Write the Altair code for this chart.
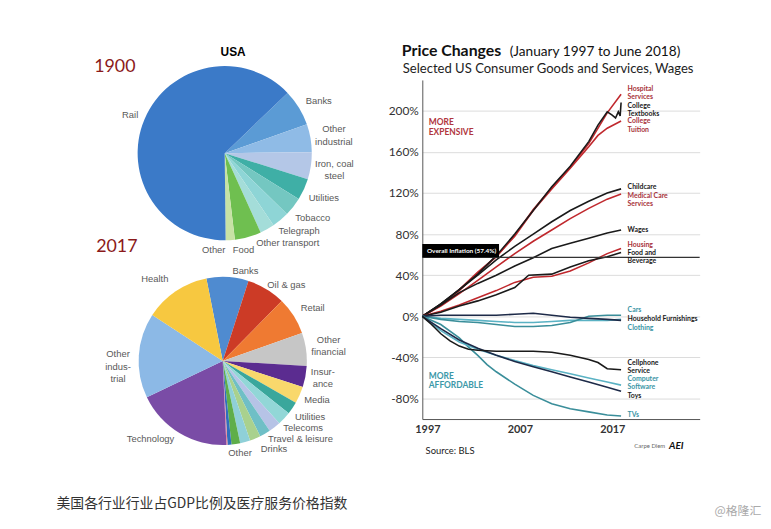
import math
import altair as alt
import pandas as pd

# ---------------- 1900 pie (share of US market, %) ----------------
SECTORS_1900 = ["Banks", "Other\nindustrial", "Iron, coal\nsteel", "Utilities", "Tobacco",
                "Telegraph", "Other transport", "Food", "Other", "Rail"]
SHARE_1900 = [6.8, 5.2, 5.0, 4.0, 3.5, 3.2, 2.7, 4.9, 1.7, 63.0]
COLORS_1900 = ["#5b9bd5", "#8fbbe6", "#b4c7e7", "#3fafa6", "#74c7c1",
               "#8ed5d6", "#a4ddd9", "#6fbf50", "#c7e2a5", "#3b7ac8"]

# ---------------- 2017 pie ----------------
SECTORS_2017 = ["Banks", "Oil & gas", "Retail", "Other\nfinancial", "Insur-\nance", "Media",
                "Utilities", "Telecoms", "Travel & leisure", "Drinks", "", "Other", "", "", "",
                "Technology", "Other\nindus-\ntrial", "Health"]
SHARE_2017 = [8.06, 7.42, 7.22, 6.36, 4.06, 3.25, 2.39, 2.61, 2.31, 2.08, 2.08, 1.94, 1.67,
              0.75, 0.22, 18.58, 16.31, 12.69]
COLORS_2017 = ["#4f8bd0", "#cc3b26", "#ef7a32", "#c6c6c6", "#5b2c90", "#f9d86c",
               "#3aa79c", "#92d7d7", "#b6c3e6", "#6fbfc6", "#a9d18e", "#8fd0d8", "#5fae4a",
               "#2f6fbd", "#e8879a", "#7a4ca6", "#8cb9e6", "#f7c840"]

# ---------------- price changes since Jan 1997 (%) ----------------
YEARS = [1997, 1999, 2001, 2003, 2005, 2007, 2009, 2011, 2013, 2015, 2017, 2018.5]
HOSPITAL = [0, 11, 25, 42, 58, 79, 104, 125, 145, 168, 198, 216]
YEARS_TEXTBOOKS = [1997, 1999, 2001, 2003, 2005, 2007, 2009, 2011, 2013, 2015, 2016, 2017,
                   2017.5, 2017.9, 2018.2, 2018.4, 2018.5]
TEXTBOOKS = [0, 12, 26, 41, 59, 80, 103, 126, 146, 170, 186, 199, 196, 193, 199, 195, 208]
YEARS_TUITION = [1997, 1999, 2001, 2003, 2005, 2007, 2009, 2011, 2013, 2015, 2016, 2017, 2018.5]
TUITION = [0, 11, 26, 43, 58, 78, 103, 124, 144, 165, 176, 183, 190]
CHILDCARE = [0, 12, 26, 40, 55, 68, 80, 92, 103, 112, 120, 124]
MEDICAL = [0, 10, 22, 35, 48, 61, 73, 84, 95, 105, 114, 119]
WAGES = [0, 11, 23, 32, 40, 49, 57, 66, 71, 76, 81, 84]
HOUSING = [0, 5, 11, 18, 25, 33, 38, 39, 44, 52, 61, 66]
YEARS_FOOD = [1997, 1999, 2001, 2003, 2005, 2007, 2008.5, 2011, 2013, 2015, 2017, 2018.5]
FOOD = [0, 4, 10, 15, 21, 28, 40, 41, 48, 54, 58, 62]
CARS = [0, -3, -5, -6, -8, -10, -10, -9, -6, 0, 1, 1]
CLOTHING = [0, -2, -3, -4, -5, -6, -6, -5, -4, -4, -4, -3]
FURNISHINGS = [0, 1, 1, 1, 1, 2, 3, 1, -1, -2, -3, -4]
YEARS_CELL = [1997, 1998, 1999, 2000, 2001, 2002, 2003, 2005, 2007, 2009, 2011, 2013, 2015,
              2016, 2017, 2018.5]
CELLPHONE = [0, -8, -17, -24, -29, -32, -33, -34, -34, -34, -35, -38, -42, -45, -51, -52]
TOYS = [0, -12, -23, -31, -38, -44, -49, -54, -59, -64, -69, -73]
SOFTWARE = [0, -14, -25, -32, -38, -43, -48, -52, -56, -60, -64, -67]
YEARS_TV = [1997, 1999, 2001, 2002, 2003, 2004, 2005, 2007, 2009, 2011, 2013, 2015, 2017, 2018.5]
TVS = [0, -8, -21, -30, -38, -47, -54, -66, -77, -85, -90, -93, -96, -97]
OVERALL_INFLATION = 57.4

RED, BLACK, NAVY, TEAL, LTEAL = "#c0282d", "#1a1a1a", "#1d2a48", "#3a8e9a", "#5ab2c4"
SERIES = [
    ("Hospital", YEARS, HOSPITAL, RED),
    ("Tuition", YEARS_TUITION, TUITION, RED),
    ("Textbooks", YEARS_TEXTBOOKS, TEXTBOOKS, BLACK),
    ("Medical", YEARS, MEDICAL, RED),
    ("Childcare", YEARS, CHILDCARE, BLACK),
    ("Wages", YEARS, WAGES, BLACK),
    ("Housing", YEARS, HOUSING, RED),
    ("Food", YEARS_FOOD, FOOD, BLACK),
    ("Clothing", YEARS, CLOTHING, LTEAL),
    ("Cars", YEARS, CARS, TEAL),
    ("Furnishings", YEARS, FURNISHINGS, NAVY),
    ("TVs", YEARS_TV, TVS, TEAL),
    ("Software", YEARS, SOFTWARE, LTEAL),
    ("Toys", YEARS, TOYS, NAVY),
    ("Cellphone", YEARS_CELL, CELLPHONE, BLACK),
]

END_LABELS = ["Hospital\nServices", "College\nTextbooks", "College\nTuition", "Childcare",
              "Medical Care\nServices", "Wages", "Housing", "Food and\nBeverage", "Cars",
              "Household Furnishings", "Clothing", "Cellphone\nService", "Computer\nSoftware",
              "Toys", "TVs"]
END_LABEL_COLORS = ["#a8323a", BLACK, "#a8323a", BLACK, "#a8323a", BLACK, "#a8323a", BLACK,
                    "#3a95a5", BLACK, "#3a95a5", BLACK, "#3a95a5", BLACK, "#3a95a5"]

# ---------------- layout / placement (not data) ----------------
W, H = 763, 511
X0, X1 = 418.7, 699.0
Y0, Y1 = 412.7, 70.0
FONT = "Lato"
PIEFONT = "Liberation Sans"
# vertical anchor (first text line) of each end label, in axis units
END_LABEL_AT = [221.6, 204.3, 189.6, 126, 117, 84.3, 69.5, 61.5, 5.9, -2.4, -11, -45.4,
                -61.3, -77.4, -96.1]
# pixel nudges of pie labels away from their slice's mid-angle position
NUDGE_1900 = {"Rail": (4, 3), "Banks": (3, 4), "Other\nindustrial": (4, -5.5),
              "Iron, coal\nsteel": (4, -5), "Utilities": (2, 0), "Tobacco": (4, -1),
              "Telegraph": (6, -4), "Other transport": (11, -3), "Food": (-10, -6),
              "Other": (-18, -10)}
NUDGE_2017 = {"Health": (-11, 3), "Banks": (17, 12), "Oil & gas": (11, 11), "Retail": (4, 2),
              "Other\nfinancial": (5, -7), "Insur-\nance": (0, -8), "Media": (1, -2),
              "Utilities": (3, -1), "Telecoms": (6, -3), "Travel & leisure": (15, -2),
              "Drinks": (0, 0), "Other": (-10, -6), "Technology": (-20, -9),
              "Other\nindus-\ntrial": (-3, 0)}

xs = alt.Scale(domain=[1997, 2027], range=[X0, X1], nice=False, zero=False)
ys = alt.Scale(domain=[-100, 230], range=[Y0, Y1], nice=False, zero=False)


def pie(names, shares, colors, cx, cy, r, start_deg, label_r, nudges):
    df = pd.DataFrame({"idx": list(range(len(names))), "name": names,
                       "share": shares, "col": colors})
    a0 = math.radians(start_deg)
    base = alt.Chart(df).encode(
        theta=alt.Theta("share:Q", stack=True, scale=alt.Scale(range=[a0, a0 + 2 * math.pi])),
        order=alt.Order("idx:Q"),
        x=alt.value(cx), y=alt.value(cy),
    )
    layers = [base.mark_arc(outerRadius=r).encode(color=alt.Color("col:N", scale=None))]
    for i, nm in enumerate(names):
        if not nm:
            continue
        dx, dy = nudges.get(nm, (0, 0))
        layers.append(
            base.transform_calculate(lab=f"datum.idx == {i} ? datum.name : ''")
            .mark_text(radius=label_r, dx=dx, dy=dy, font=PIEFONT, fontSize=9.5,
                       color="#595959", lineBreak="\n", lineHeight=12.5)
            .encode(text="lab:N"))
    return alt.layer(*layers)


def note(txt, x, y, size, color="#222", weight="normal", font=FONT, align="left",
         baseline="middle", style="normal"):
    return alt.Chart(pd.DataFrame({"t": [txt]})).mark_text(
        align=align, baseline=baseline, fontSize=size, color=color, fontWeight=weight,
        font=font, fontStyle=style, lineBreak="\n").encode(
        x=alt.value(x), y=alt.value(y), text="t:N")


pie1900 = pie(SECTORS_1900, SHARE_1900, COLORS_1900, 219, 144, 88, 46.2, 108, NUDGE_1900)
pie2017 = pie(SECTORS_2017, SHARE_2017, COLORS_2017, 217, 354, 85, 348.8, 103, NUDGE_2017)

rows = []
for name, yrs, vals, col in SERIES:
    for yv, v in zip(yrs, vals):
        rows.append({"series": name, "year": yv, "pct": v, "col": col})
line_df = pd.DataFrame(rows)

lines = alt.Chart(line_df).mark_line(strokeWidth=1.6).encode(
    x=alt.X("year:Q", scale=xs,
            axis=alt.Axis(values=[1997.55, 2007.55, 2017.55], labelExpr="floor(datum.value)",
                          title=None, offset=Y0 - H, ticks=False, domainColor="#555",
                          labelFlush=False, labelPadding=5, labelFontSize=11,
                          labelColor="#333", labelFont=FONT, labelFontWeight="bold",
                          grid=False)),
    y=alt.Y("pct:Q", scale=ys,
            axis=alt.Axis(values=[-80, -40, 0, 40, 80, 120, 160, 200],
                          labelExpr="datum.value + '%'", title=None, offset=-X0,
                          ticks=False, domainColor="#555", labelPadding=4, labelFontSize=12,
                          labelColor="#333", labelFont=FONT, grid=True, gridColor="#dcdcdc")),
    detail="series:N",
    order="year:Q",
    color=alt.Color("col:N", scale=None),
)

infl_rule = alt.Chart(pd.DataFrame({"v": [OVERALL_INFLATION]})).mark_rule(
    color="#333", strokeWidth=1.2).encode(
    y=alt.Y("v:Q", scale=ys), x=alt.datum(1997), x2=alt.datum(2027))
infl_box = alt.Chart(pd.DataFrame({"v": [OVERALL_INFLATION]})).mark_rect(color="#000").encode(
    y=alt.Y("v:Q", scale=ys), y2=alt.datum(70.4), x=alt.datum(1997), x2=alt.datum(2005.3))
infl_text = alt.Chart(pd.DataFrame({"t": ["Overall Inflation (57.4%)"]})).mark_text(
    align="left", baseline="middle", color="white", fontSize=6.5, fontWeight="bold",
    font=FONT).encode(x=alt.datum(1997.5), y=alt.datum(64), text="t:N")

lab_df = pd.DataFrame({"lab": END_LABELS, "at": END_LABEL_AT, "col": END_LABEL_COLORS})
end_labels = alt.Chart(lab_df).mark_text(
    align="left", baseline="middle", fontSize=7, fontWeight="bold", font=FONT,
    lineBreak="\n", lineHeight=8.2).encode(
    x=alt.datum(2019.2), y=alt.Y("at:Q", scale=ys), text="lab:N",
    color=alt.Color("col:N", scale=None))

more_exp = alt.Chart(pd.DataFrame({"t": ["MORE\nEXPENSIVE"]})).mark_text(
    align="left", baseline="middle", fontSize=8.5, fontWeight="bold", font=FONT,
    color="#b0363d", lineBreak="\n", lineHeight=9.5).encode(
    x=alt.datum(1997.7), y=alt.datum(188.6), text="t:N")
more_aff = alt.Chart(pd.DataFrame({"t": ["MORE\nAFFORDABLE"]})).mark_text(
    align="left", baseline="middle", fontSize=8.5, fontWeight="bold", font=FONT,
    color="#3c98a8", lineBreak="\n", lineHeight=9.5).encode(
    x=alt.datum(1997.7), y=alt.datum(-57.9), text="t:N")

texts = [
    note("USA", 227.5, 42, 12, color="#000", weight="bold", font=PIEFONT, align="center"),
    note("1900", 108, 56.5, 18, color="#8b1a1a", align="center"),
    note("2017", 110, 239, 18, color="#8b1a1a", align="center"),
    note("Price Changes", 398, 46, 16, color="#111", weight="bold", baseline="alphabetic"),
    note("(January 1997 to June 2018)", 507, 46, 13.8, color="#111", baseline="alphabetic"),
    note("Selected US Consumer Goods and Services, Wages", 399, 62.7, 13.2, color="#222",
         baseline="alphabetic"),
    note("Source: BLS", 422, 444.7, 9.5, color="#222"),
    note("Carpe Diem", 633, 440.3, 6, color="#666"),
    note("AEI", 668, 439.7, 10, color="#111", weight="bold", style="italic"),
    note("美国各行业行业占GDP比例及医疗服务价格指数", 49, 499, 14, color="#333",
         font="Noto Sans CJK SC"),
    note("@格隆汇", 714, 506, 12, color="#aaa", font="Noto Sans CJK SC"),
]

chart = alt.layer(
    pie1900, pie2017, lines, infl_rule, infl_box, infl_text, end_labels, more_exp, more_aff,
    *texts
).resolve_scale(theta="independent").properties(
    width=W, height=H, autosize=alt.AutoSizeParams(type="none"), padding=0
).configure_view(stroke=None)

chart.save("out.html", embed_options={"renderer": "svg", "actions": False})
